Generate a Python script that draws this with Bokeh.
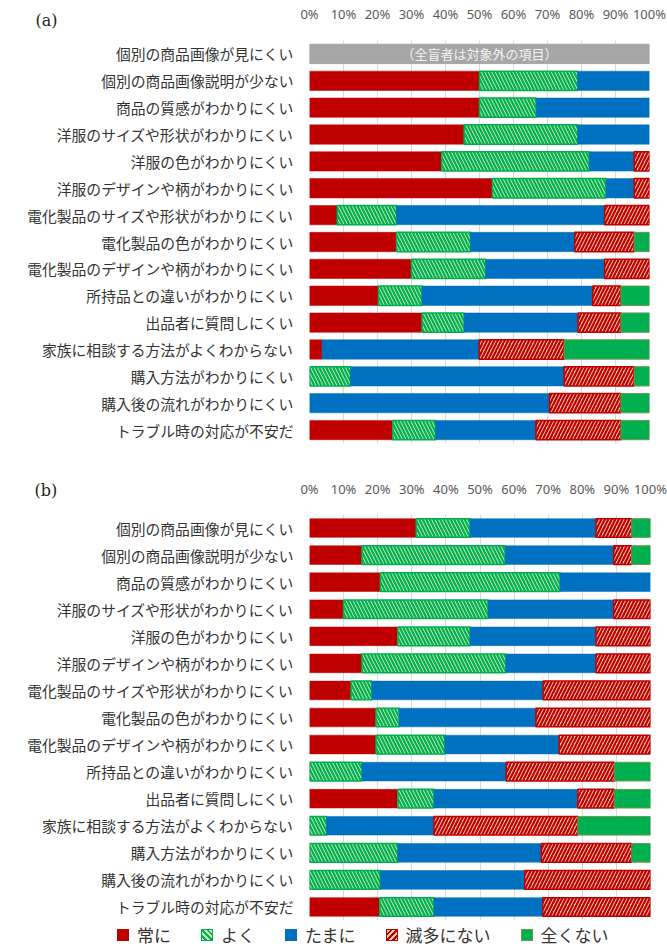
from bokeh.plotting import figure
from bokeh.models import (FactorRange, Range1d, ColumnDataSource, FixedTicker,
                          PrintfTickFormatter, Label, Div)
from bokeh.layouts import column
from bokeh.embed import file_html
from bokeh.resources import INLINE
from bokeh.core.properties import value

# ---------------- data ----------------
categories = [
    "個別の商品画像が見にくい",
    "個別の商品画像説明が少ない",
    "商品の質感がわかりにくい",
    "洋服のサイズや形状がわかりにくい",
    "洋服の色がわかりにくい",
    "洋服のデザインや柄がわかりにくい",
    "電化製品のサイズや形状がわかりにくい",
    "電化製品の色がわかりにくい",
    "電化製品のデザインや柄がわかりにくい",
    "所持品との違いがわかりにくい",
    "出品者に質問しにくい",
    "家族に相談する方法がよくわからない",
    "購入方法がわかりにくい",
    "購入後の流れがわかりにくい",
    "トラブル時の対応が不安だ",
]
series_names = ["常に", "よく", "たまに", "滅多にない", "全くない"]

# (a) first item not applicable (gray bar)
na_category = "個別の商品画像が見にくい"
na_text = "（全盲者は対象外の項目）"
a_always = [0, 50.0, 50.0, 45.5, 38.9, 53.8, 8.2, 25.6, 30.0, 20.3, 33.1, 3.7, 0, 0, 24.5]
a_often  = [0, 28.9, 16.7, 33.4, 43.4, 33.4, 17.4, 21.8, 21.8, 12.8, 12.4, 0, 12.1, 0, 12.6]
a_some   = [0, 21.1, 33.3, 21.1, 13.2, 8.3, 61.2, 30.6, 35.0, 50.2, 33.5, 46.2, 62.8, 70.6, 29.5]
a_rarely = [0, 0, 0, 0, 4.5, 4.5, 13.2, 17.5, 13.2, 8.3, 12.6, 25.0, 20.6, 21.0, 25.0]
a_never  = [0, 0, 0, 0, 0, 0, 0, 4.5, 0, 8.4, 8.4, 25.1, 4.5, 8.4, 8.4]

b_always = [31.3, 15.4, 20.8, 10.0, 25.9, 15.4, 12.2, 19.5, 19.5, 0, 25.9, 0, 0, 0, 20.6]
b_often  = [15.8, 42.0, 52.7, 42.4, 21.2, 42.2, 6.1, 6.8, 20.2, 15.4, 10.6, 5.0, 25.9, 20.8, 15.9]
b_some   = [36.9, 31.8, 26.5, 36.8, 36.9, 26.4, 50.2, 40.1, 33.5, 42.3, 42.2, 31.5, 42.1, 42.3, 31.9]
b_rarely = [10.5, 5.3, 0, 10.8, 16.0, 16.0, 31.5, 33.6, 26.8, 31.7, 10.7, 42.2, 26.5, 36.9, 31.6]
b_never  = [5.5, 5.5, 0, 0, 0, 0, 0, 0, 0, 10.6, 10.6, 21.3, 5.5, 0, 0]

x_ticks = [0, 10, 20, 30, 40, 50, 60, 70, 80, 90, 100]

# ---------------- styles ----------------
styles = [
    dict(fill_color="#c00000", line_color="#c00000", line_width=0.5),
    dict(fill_color="#c6e7b8", line_color="#00b050", line_width=1.5,
         hatch_pattern="\\", hatch_color="#00b050", hatch_scale=7, hatch_weight=2.2),
    dict(fill_color="#0070c0", line_color="#0070c0", line_width=0.5),
    dict(fill_color="#f8cbad", line_color="#c00000", line_width=1.5,
         hatch_pattern="/", hatch_color="#c00000", hatch_scale=7, hatch_weight=2.2),
    dict(fill_color="#00b050", line_color="#6f9a45", line_width=1),
]
# CSS versions of the same swatches for the legend strip
swatch_css = [
    "background:#c00000;",
    "background:repeating-linear-gradient(45deg,#c6e7b8 0 2px,#00b050 2px 4px);"
    "border:1.5px solid #00b050;",
    "background:#0070c0;",
    "background:repeating-linear-gradient(-45deg,#f8cbad 0 2px,#c00000 2px 4px);"
    "border:1.5px solid #c00000;",
    "background:#00b050;border:1px solid #6f9a45;",
]

JP = "Noto Sans CJK JP"
TOTAL_W = 667


def make_panel(series, tag, fl, fw, ft, fh, fb, bar_h, tick_standoff, tag_x, tag_y,
               na=False):
    p = figure(y_range=FactorRange(*reversed(categories)), x_range=Range1d(0, 100),
               x_axis_location="above", frame_width=fw, frame_height=fh,
               min_border_left=fl, min_border_right=TOTAL_W - fl - fw,
               min_border_top=ft, min_border_bottom=fb,
               output_backend="svg", toolbar_location=None)
    p.outline_line_color = None
    p.background_fill_color = "white"
    p.border_fill_color = "white"
    p.ygrid.grid_line_color = None
    p.xgrid.grid_line_color = "#d9d9d9"
    p.xgrid.grid_line_width = 1
    p.xaxis.ticker = FixedTicker(ticks=x_ticks)
    p.xaxis.formatter = PrintfTickFormatter(format="%d%%")
    p.xaxis.axis_line_color = None
    p.xaxis.major_tick_line_color = None
    p.xaxis.minor_tick_line_color = None
    p.xaxis.major_label_text_font = "Noto Sans"
    p.xaxis.major_label_text_font_size = "13px"
    p.xaxis.major_label_text_color = "#595959"
    p.xaxis.major_label_standoff = tick_standoff
    p.yaxis.axis_line_color = None
    p.yaxis.major_tick_line_color = None
    p.yaxis.minor_tick_line_color = None
    p.yaxis.major_label_text_font = JP
    p.yaxis.major_label_text_font_size = "14.8px"
    p.yaxis.major_label_text_color = "#333333"
    p.yaxis.major_label_standoff = 10

    for k, (vals, st) in enumerate(zip(series, styles)):
        ys, lefts, rights = [], [], []
        for i, cat in enumerate(categories):
            left = sum(s[i] for s in series[:k])
            if vals[i] > 0:
                ys.append(cat)
                lefts.append(left)
                rights.append(left + vals[i])
        src = ColumnDataSource(dict(y=ys, left=lefts, right=rights))
        p.hbar(y="y", left="left", right="right", height=bar_h, source=src, **st)

    if na:
        nsrc = ColumnDataSource(dict(y=[na_category], left=[0], right=[100],
                                     xm=[50], t=[na_text]))
        p.hbar(y="y", left="left", right="right", height=bar_h, source=nsrc,
               fill_color="#a6a6a6", line_color="#a6a6a6")
        p.text(x="xm", y="y", text="t", source=nsrc, text_align="center",
               text_baseline="middle", text_color="#f2f2f2",
               text_font=value(JP), text_font_size="13px")

    # panel tag "(a)"/"(b)" placed in the left side panel (outside the frame)
    lab = Label(x=tag_x, y=tag_y, x_units="screen", y_units="screen", text=tag,
                text_font="DejaVu Serif", text_font_size="16px",
                text_color="#222222", text_baseline="middle")
    p.add_layout(lab, "left")
    return p


# panel (a): frame 309..649 x 40..443 (page px)
pa = make_panel([a_always, a_often, a_some, a_rarely, a_never], "(a)",
                309, 340, 40, 403, 27, 0.72, 12, 33, 423, na=True)
# panel (b): frame 309..650 x 514..920 (page px)
pb = make_panel([b_always, b_often, b_some, b_rarely, b_never], "(b)",
                309, 341, 44, 406, 0, 0.69, 11, 33, 430)

# ---------------- legend strip (HTML) ----------------
item_html = "".join(
    f'<span style="display:inline-flex;align-items:center;margin-right:30px;">'
    f'<span style="display:inline-block;box-sizing:border-box;width:12px;height:12px;'
    f'margin-right:8px;{css}"></span>{name}</span>'
    for name, css in zip(series_names, swatch_css)
)
legend_div = Div(
    text=f'<div style="padding:4px 0 0 117px;font-family:\'{JP}\';font-size:17px;'
         f'line-height:20px;color:#333333;white-space:nowrap;">{item_html}</div>',
    width=TOTAL_W, height=30, margin=0)

layout = column(pa, pb, legend_div, spacing=0)
open("out.html", "w").write(file_html(layout, INLINE))
